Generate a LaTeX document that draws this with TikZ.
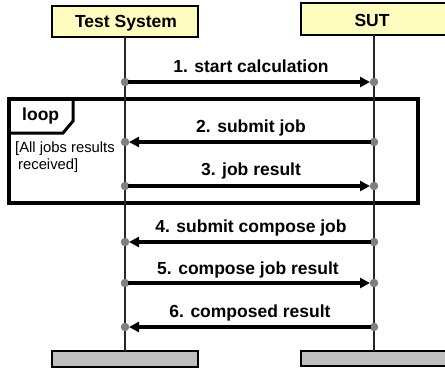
\documentclass[tikz,border=0pt]{standalone}
\usepackage{fontspec}
\setmainfont{Liberation Sans}
\usetikzlibrary{arrows.meta}
\begin{document}
\begin{tikzpicture}[x=1pt,y=-1pt,
  hdr/.style={draw=black,line width=2.2pt,fill=yellow!25},
  hdrtext/.style={font=\bfseries\fontsize{17.5}{20}\selectfont,anchor=base,inner sep=0pt},
  foot/.style={draw=black,line width=2pt,fill=black!25},
  life/.style={draw=black!85,line width=1.8pt},
  msg/.style={line width=3.2pt,-{Triangle[length=10pt,width=10pt]},shorten >=4pt,shorten <=3pt},
  lbl/.style={font=\bfseries\fontsize{17.5}{20}\selectfont,anchor=base,inner sep=0pt},
  guard/.style={font=\fontsize{14.8}{17}\selectfont,anchor=base west,inner sep=0pt},
  dot/.style={circle,fill=black!50,inner sep=0pt,minimum size=8.5pt}]
\useasboundingbox (0,0) rectangle (445,368);
\fill[white] (0,0) rectangle (445,368);
% headers
\draw[hdr] (52,6) rectangle (198,37);
\node[hdrtext] (ts) at (126,27) {Test System};
\draw[hdr] (301,3) rectangle (447,35);
\node[hdrtext] (sut) at (372,26) {SUT};
% footers
\draw[foot] (52,351) rectangle (198,367);
\draw[foot] (301,351) rectangle (447,366);
% lifelines
\coordinate (a0) at (125,37);
\coordinate (a1) at (125,351);
\coordinate (b0) at (374,35);
\coordinate (b1) at (374,351);
% loop frame
\draw[line width=3.4pt] (9,99) rectangle (418,203);
\draw[line width=3pt] (9,133) -- (63,133) -- (73,121) -- (73,99);
\node[font=\bfseries\fontsize{17.5}{20}\selectfont,anchor=base west,inner sep=0pt] (loop) at (22,120) {loop};
\node[guard] (g1) at (15,152) {[All jobs results};
\node[guard] (g2) at (18,169) {received]};
\draw[life] (a0) -- (a1);
\draw[life] (b0) -- (b1);
% message endpoints
\foreach \i/\y in {1/82,2/142,3/186,4/242,5/283,6/327}{
  \node[dot] (l\i) at (125,\y) {};
  \node[dot] (r\i) at (374,\y) {};
}
\draw[msg] (l1.center) -- (r1.center);
\draw[msg] (r2.center) -- (l2.center);
\draw[msg] (l3.center) -- (r3.center);
\draw[msg] (r4.center) -- (l4.center);
\draw[msg] (l5.center) -- (r5.center);
\draw[msg] (r6.center) -- (l6.center);
\node[lbl] (m1) at (251,72) {1. start calculation};
\node[lbl] (m2) at (251,132.5) {2. submit job};
\node[lbl] (m3) at (251,175) {3. job result};
\node[lbl] (m4) at (251,232.5) {4. submit compose job};
\node[lbl] (m5) at (248,274.5) {5. compose job result};
\node[lbl] (m6) at (250,317.5) {6. composed result};
\end{tikzpicture}
\end{document}
